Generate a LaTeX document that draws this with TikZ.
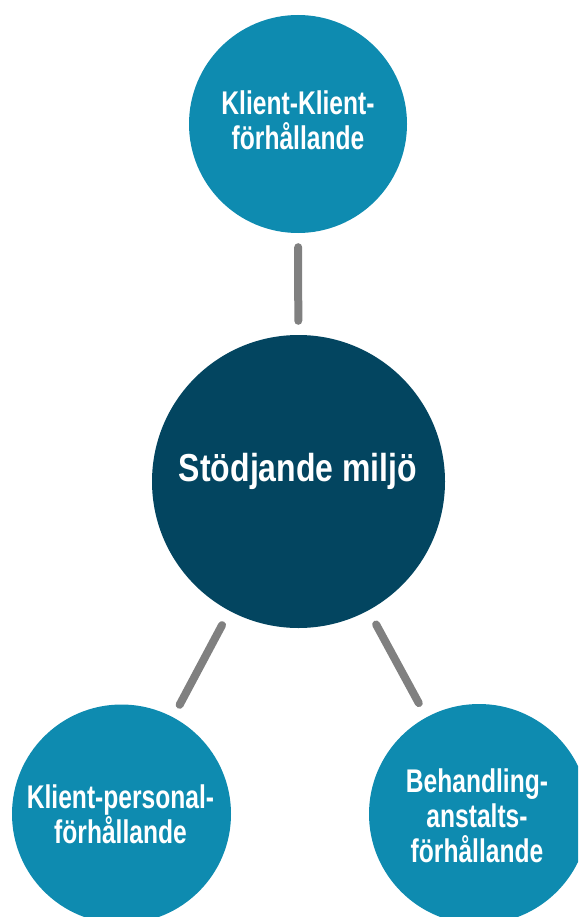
\documentclass[tikz,border=0pt]{standalone}
\usepackage{fontspec}
\newfontfamily\condsmall[FakeStretch=0.75]{Liberation Sans}
\newfontfamily\condbig[FakeStretch=0.82]{Liberation Sans}
\definecolor{lightblue}{RGB}{14,139,176}
\definecolor{darkblue}{RGB}{3,69,96}
\definecolor{linegray}{RGB}{128,128,128}
\begin{document}
\begin{tikzpicture}[x=1pt,y=-1pt,
  circ/.style={circle,inner sep=0pt,draw=none},
  small/.style={circ,fill=lightblue},
  big/.style={circ,fill=darkblue},
  lbl/.style={text=white,align=center,inner sep=0pt,anchor=base,
    font=\condsmall\bfseries\fontsize{32.8}{35}\selectfont},
  biglbl/.style={text=white,inner sep=0pt,anchor=base,
    font=\condbig\bfseries\fontsize{39}{42}\selectfont},
  conn/.style={draw=linegray,line width=8pt,line cap=round}]
\clip (0,0) rectangle (578,917);
\useasboundingbox (0,0) rectangle (578,917);
\node[small,minimum size=218pt] (top) at (298,124) {};
\node[big,minimum size=293pt] (mid) at (298.5,481.5) {};
\node[small,minimum size=219pt] (bl) at (121.5,814) {};
\node[small,minimum size=220pt] (br) at (479,814) {};
\draw[conn,shorten <=14pt,shorten >=14pt] (top) -- (mid);
\draw[conn,shorten <=16pt,shorten >=14pt] (mid) -- (bl);
\draw[conn,shorten <=16pt,shorten >=16pt] (mid) -- (br);
\node[lbl] (ttop) at (298,150) {Klient-Klient-\\förhållande};
\node[biglbl] (tmid) at (298,481) {Stödjande miljö};
\node[lbl] (tbl) at (120.5,843) {Klient-personal-\\förhållande};
\node[lbl] (tbr) at (477,862) {Behandling-\\anstalts-\\förhållande};
\end{tikzpicture}
\end{document}
